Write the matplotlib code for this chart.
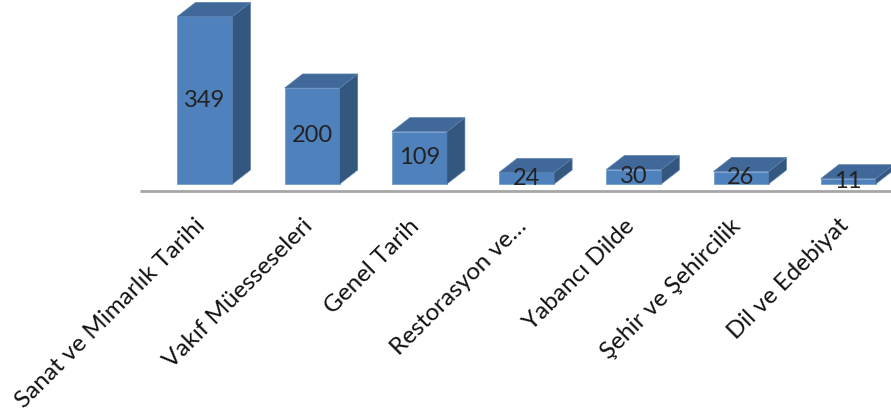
import matplotlib
matplotlib.use("Agg")
import matplotlib.pyplot as plt
from matplotlib.patches import Polygon

plt.rcParams['font.family'] = ['Lato', 'DejaVu Sans']

categories = ["Sanat ve Mimarlık Tarihi", "Vakıf Müesseseleri", "Genel Tarih",
              "Restorasyon ve…", "Yabancı Dilde", "Şehir ve Şehircilik",
              "Dil ve Edebiyat"]
values = [349, 200, 109, 24, 30, 26, 11]

front = '#4F81BD'
top = '#40699A'
side = '#34577F'

fig = plt.figure(figsize=(8.91, 4.16), dpi=100)
ax = fig.add_axes([0, 0, 1, 1])
ax.set_xlim(-1.912, 6.399)
ax.set_ylim(-483.3, 383.3)
ax.axis('off')

hw = 0.2565   # half bar width
dx = 0.168    # depth offset x
dy = 29.2     # depth offset y

# floor line
ax.plot([-0.606, 6.5], [-14.6, -14.6], color='#a6a6a6', lw=2, solid_capstyle='butt')

for i, v in enumerate(values):
    x0, x1 = i - hw, i + hw
    ax.add_patch(Polygon([(x0, 0), (x1, 0), (x1, v), (x0, v)], closed=True,
                         facecolor=front, edgecolor='#6b96cc', lw=0.5))
    ax.add_patch(Polygon([(x1, 0), (x1 + dx, dy), (x1 + dx, v + dy), (x1, v)],
                         closed=True, facecolor=side, edgecolor='#5a7fae', lw=0.5))
    ax.add_patch(Polygon([(x0, v), (x1, v), (x1 + dx, v + dy), (x0 + dx, v + dy)],
                         closed=True, facecolor=top, edgecolor='#5a7fae', lw=0.5))
    ax.text(i, v / 2, str(v), ha='center', va='center', fontsize=17, color='#222222')
    ax.text(i - 0.03, -80, categories[i], rotation=45, rotation_mode='anchor',
            ha='right', va='center', fontsize=17.5, color='#111111')

fig.savefig('out.png', dpi=100)
